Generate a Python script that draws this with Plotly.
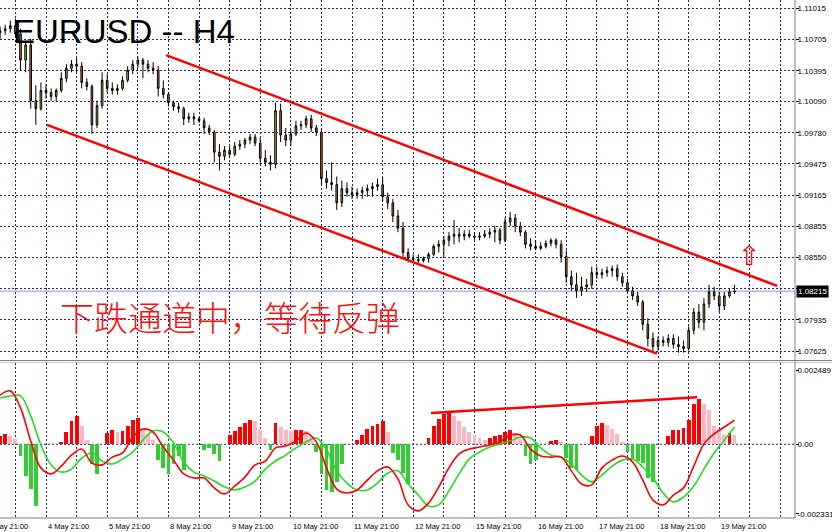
import plotly.graph_objects as go

# ---------------- data ----------------
# bar time in trading hours since "4 May 21:00" (2-hour bars)
bar_hours = list(range(-18, 271, 2))

open_ = [1.1077,1.1079,1.1081,1.1084,1.1076,1.1050,1.1065,1.1010,1.1002,1.1020,
         1.1018,1.1014,1.1020,1.1032,1.1042,1.1046,1.1044,1.1028,1.1024,1.0986,
         1.1005,1.1030,1.1022,1.1020,1.1022,1.1030,1.1040,1.1046,1.1050,1.1046,
         1.1042,1.1040,1.1022,1.1016,1.1008,1.1004,1.1002,1.0992,1.0994,1.0992,
         1.0990,1.0983,1.0979,1.0959,1.0955,1.0961,1.0957,1.0965,1.0967,1.0971,
         1.0974,1.0968,1.0953,1.0949,1.0947,1.1000,1.0976,1.0971,1.0977,1.0985,
         1.0986,1.0992,1.0983,1.0979,1.0933,1.0929,1.0927,1.0909,1.0923,1.0919,
         1.0917,1.0919,1.0921,1.0923,1.0925,1.0927,1.0915,1.0909,1.0896,1.0884,
         1.0860,1.0854,1.0853,1.0852,1.0854,1.0858,1.0866,1.0868,1.0872,1.0876,
         1.0878,1.0876,1.0878,1.0876,1.0875,1.0876,1.0878,1.0880,1.0882,1.0872,
         1.0890,1.0894,1.0886,1.0880,1.0868,1.0866,1.0864,1.0866,1.0869,1.0872,
         1.0868,1.0856,1.0836,1.0828,1.0822,1.0826,1.0828,1.0840,1.0838,1.0840,
         1.0842,1.0844,1.0836,1.0830,1.0822,1.0817,1.0811,1.0789,1.0775,1.0767,
         1.0773,1.0771,1.0775,1.0769,1.0767,1.0765,1.0783,1.0801,1.0791,1.0809,
         1.0821,1.0817,1.0807,1.0817,1.0821]
high = [1.1083,1.1085,1.1089,1.1091,1.1081,1.1068,1.1071,1.1025,1.1028,1.1026,
        1.1022,1.1022,1.1038,1.1046,1.1050,1.1052,1.1048,1.1032,1.1026,1.1010,
        1.1038,1.1036,1.1028,1.1026,1.1034,1.1044,1.1050,1.1054,1.1052,1.1050,
        1.1048,1.1044,1.1030,1.1018,1.1010,1.1008,1.1004,1.0998,1.0998,1.0994,
        1.0993,1.0986,1.0981,1.0967,1.0965,1.0965,1.0969,1.0971,1.0973,1.0977,
        1.0977,1.0973,1.0961,1.0956,1.1008,1.1007,1.0983,1.0981,1.0990,1.0990,
        1.0995,1.0996,1.0986,1.0981,1.0941,1.0949,1.0935,1.0931,1.0929,1.0925,
        1.0923,1.0925,1.0927,1.0929,1.0933,1.0934,1.0919,1.0913,1.0902,1.0890,
        1.0864,1.0858,1.0858,1.0856,1.0860,1.0868,1.0872,1.0876,1.0880,1.0892,
        1.0884,1.0882,1.0882,1.0880,1.0880,1.0882,1.0884,1.0886,1.0884,1.0894,
        1.0900,1.0898,1.0890,1.0882,1.0874,1.0872,1.0870,1.0872,1.0874,1.0874,
        1.0872,1.0862,1.0842,1.0840,1.0836,1.0834,1.0846,1.0846,1.0844,1.0846,
        1.0847,1.0848,1.0840,1.0834,1.0826,1.0821,1.0813,1.0795,1.0781,1.0777,
        1.0777,1.0779,1.0779,1.0777,1.0773,1.0787,1.0805,1.0809,1.0815,1.0828,
        1.0826,1.0821,1.0821,1.0824,1.0828]
low = [1.1071,1.1075,1.1077,1.1073,1.1040,1.1038,1.1002,1.0986,1.1000,1.1012,
       1.1010,1.1009,1.1018,1.1028,1.1038,1.1038,1.1022,1.1020,1.0977,1.0983,
       1.1002,1.1018,1.1016,1.1016,1.1020,1.1028,1.1036,1.1042,1.1032,1.1038,
       1.1036,1.1014,1.1012,1.1004,1.1000,1.0998,1.0986,1.0988,1.0986,1.0988,
       1.0977,1.0976,1.0949,1.0941,1.0951,1.0953,1.0955,1.0961,1.0963,1.0967,
       1.0965,1.0947,1.0945,1.0941,1.0943,1.0969,1.0965,1.0965,1.0975,1.0981,
       1.0983,1.0979,1.0975,1.0927,1.0923,1.0921,1.0902,1.0905,1.0915,1.0913,
       1.0913,1.0913,1.0915,1.0915,1.0921,1.0911,1.0903,1.0890,1.0880,1.0854,
       1.0850,1.0850,1.0849,1.0850,1.0850,1.0856,1.0860,1.0856,1.0866,1.0868,
       1.0870,1.0872,1.0874,1.0872,1.0872,1.0874,1.0874,1.0870,1.0868,1.0870,
       1.0886,1.0880,1.0876,1.0864,1.0862,1.0862,1.0862,1.0864,1.0866,1.0864,
       1.0850,1.0830,1.0822,1.0815,1.0817,1.0821,1.0824,1.0834,1.0834,1.0836,
       1.0836,1.0832,1.0826,1.0821,1.0813,1.0807,1.0783,1.0767,1.0761,1.0763,
       1.0767,1.0767,1.0765,1.0761,1.0761,1.0763,1.0779,1.0785,1.0783,1.0805,
       1.0813,1.0801,1.0803,1.0815,1.0819]
close = [1.1079,1.1081,1.1084,1.1076,1.1050,1.1065,1.1010,1.1002,1.1020,1.1018,
         1.1014,1.1020,1.1032,1.1042,1.1046,1.1044,1.1028,1.1024,1.0986,1.1005,
         1.1030,1.1022,1.1020,1.1022,1.1030,1.1040,1.1046,1.1050,1.1046,1.1042,
         1.1040,1.1022,1.1016,1.1008,1.1004,1.1002,1.0992,1.0994,1.0992,1.0990,
         1.0983,1.0979,1.0959,1.0955,1.0961,1.0957,1.0965,1.0967,1.0971,1.0974,
         1.0968,1.0953,1.0949,1.0947,1.1000,1.0976,1.0971,1.0977,1.0985,1.0986,
         1.0992,1.0983,1.0979,1.0933,1.0929,1.0927,1.0909,1.0923,1.0919,1.0917,
         1.0919,1.0921,1.0923,1.0925,1.0927,1.0915,1.0909,1.0896,1.0884,1.0860,
         1.0854,1.0853,1.0852,1.0854,1.0858,1.0866,1.0868,1.0872,1.0876,1.0878,
         1.0876,1.0878,1.0876,1.0875,1.0876,1.0878,1.0880,1.0882,1.0872,1.0890,
         1.0894,1.0886,1.0880,1.0868,1.0866,1.0864,1.0866,1.0869,1.0872,1.0868,
         1.0856,1.0836,1.0828,1.0822,1.0826,1.0828,1.0840,1.0838,1.0840,1.0842,
         1.0844,1.0836,1.0830,1.0822,1.0817,1.0811,1.0789,1.0775,1.0767,1.0773,
         1.0771,1.0775,1.0769,1.0767,1.0765,1.0783,1.0801,1.0791,1.0809,1.0821,
         1.0817,1.0807,1.0817,1.0821,1.08215]

bid_price = 1.08215

# MACD-style oscillator (histogram per 2h bar, lines per 4h)
hist = [0.00027,0.00034,0.00027,0.00017,-0.00040,-0.00107,-0.00151,-0.00208,0,0,
        0,0,0.00007,0.00040,0.00077,0.00094,0.00060,0.00013,-0.00067,-0.00101,
        0,0.00037,0.00047,0.00040,0.00044,0.00060,0.00080,0.00087,0.00054,0.00034,
        0.00013,-0.00054,-0.00080,-0.00101,-0.00067,-0.00040,-0.00087,0,0,0,
        -0.00020,-0.00013,-0.00034,-0.00057,0,0.00030,0.00044,0.00057,0.00070,0.00080,
        0.00077,0.00047,0.00020,-0.00020,0.00070,0.00057,0.00047,0.00044,0.00047,0.00047,
        0.00044,0.00027,-0.00027,-0.00101,-0.00154,-0.00161,-0.00127,-0.00067,0,0,
        0.00013,0.00030,0.00050,0.00060,0.00067,0.00077,0.00040,-0.00030,-0.00054,-0.00097,
        -0.00134,0,0,0,0.00020,0.00060,0.00084,0.00101,0.00107,0.00094,
        0.00077,0.00057,0.00040,0.00030,0.00020,0.00013,0.00020,0.00027,0.00030,0.00040,
        0.00047,0.00034,0.00017,-0.00040,-0.00067,-0.00054,0,0,0.00010,0.00013,
        0.00007,-0.00047,-0.00080,-0.00087,0,0,0.00027,0.00060,0.00070,0.00064,
        0.00050,0.00034,0.00007,-0.00027,-0.00054,-0.00057,-0.00064,-0.00114,-0.00127,0,
        0,0.00027,0.00047,0.00047,0.00054,0.00080,0.00134,0.00151,0.00134,0.00114,
        0.00060,0.00047,0.00030,0.00037,0.00030]

line_hours = list(range(-18, 271, 4))
macd_main = [0.00165,0.00179,0.00122,0.00011,-0.00079,-0.00099,-0.00073,-0.00036,-0.00016,-0.00063,
             -0.00069,-0.00043,-0.00029,0.00024,0.00051,0.00041,-0.00009,-0.00053,-0.00099,-0.00113,
             -0.00113,-0.00146,-0.00166,-0.00140,-0.00110,-0.00069,-0.00056,-0.00012,-0.00006,0.00011,
             0.00038,0.00008,-0.00079,-0.00150,-0.00163,-0.00153,-0.00120,-0.00089,-0.00076,-0.00116,
             -0.00203,-0.00223,-0.00197,-0.00143,-0.00079,-0.00032,-0.00016,-0.00009,-0.00002,0.00008,
             0.00031,0.00031,-0.00016,-0.00039,-0.00043,-0.00043,-0.00089,-0.00133,-0.00136,-0.00079,
             -0.00053,-0.00039,-0.00059,-0.00120,-0.00187,-0.00203,-0.00170,-0.00146,-0.00073,0.00001,
             0.00035,0.00058,0.00081]
macd_signal = [0.00155,0.00162,0.00162,0.00095,-0.00002,-0.00069,-0.00093,-0.00083,-0.00046,-0.00029,
               -0.00056,-0.00066,-0.00049,-0.00026,0.00014,0.00045,0.00041,0.00004,-0.00059,-0.00093,
               -0.00106,-0.00123,-0.00143,-0.00153,-0.00143,-0.00123,-0.00083,-0.00056,-0.00036,-0.00012,
               0.00008,0.00021,-0.00019,-0.00089,-0.00130,-0.00153,-0.00153,-0.00130,-0.00096,-0.00089,
               -0.00133,-0.00170,-0.00207,-0.00203,-0.00156,-0.00099,-0.00049,-0.00026,-0.00009,0.00001,
               0.00011,0.00024,0.00021,-0.00012,-0.00036,-0.00043,-0.00066,-0.00103,-0.00126,-0.00103,
               -0.00073,-0.00053,-0.00049,-0.00076,-0.00113,-0.00163,-0.00193,-0.00177,-0.00140,-0.00083,
               -0.00029,0.00014,0.00058]

# hand-drawn trend lines (hour, value)
upper_channel_x = [47.1, 286.7]
upper_channel_y = [1.1055, 1.0827]
lower_channel_x = [0.4, 239.6]
lower_channel_y = [1.0986, 1.0760]
osc_trend_x = [151.0, 255.3]
osc_trend_y = [0.00105, 0.00158]

price_ticks = [1.11015,1.10705,1.10395,1.10090,1.09780,1.09475,1.09165,1.08855,1.08550,1.08243,1.07935,1.07625]
price_tick_text = ["1.11015","1.10705","1.10395","1.10090","1.09780","1.09475","1.09165","1.08855","1.08550","","1.07935","1.07625"]
osc_ticks = [0.002489, 0.0, -0.002331]
osc_tick_text = ["0.002489", "0.00", "-0.002331"]

date_label_hours = [-24,0,24,48,72,96,120,144,168,192,216,240,264]
date_labels = ["3 May 21:00","4 May 21:00","5 May 21:00","8 May 21:00","9 May 21:00","10 May 21:00",
               "11 May 21:00","12 May 21:00","15 May 21:00","16 May 21:00","17 May 21:00","18 May 21:00","19 May 21:00"]

title_text = "EURUSD -- H4"
note_text = "下跌通道中，等待反弹"

# ---------------- figure ----------------
W, H = 832, 532
PLOT_R = 795
GRID = "#23238f"
GRID_DASH = "2px,2px"
FONT = "Liberation Sans"

x_range = [-18.04, 293.7]

fig = go.Figure()

fig.add_trace(go.Candlestick(
    x=bar_hours, open=open_, high=high, low=low, close=close,
    increasing=dict(line=dict(color="black", width=1), fillcolor="#b5c83a"),
    decreasing=dict(line=dict(color="black", width=1), fillcolor="#e8702a"),
    whiskerwidth=0, xaxis="x", yaxis="y", hoverinfo="skip"))

fig.add_trace(go.Scatter(x=upper_channel_x, y=upper_channel_y, mode="lines",
                         line=dict(color="#ff0000", width=2.5), xaxis="x", yaxis="y"))
fig.add_trace(go.Scatter(x=lower_channel_x, y=lower_channel_y, mode="lines",
                         line=dict(color="#ff0000", width=2.5), xaxis="x", yaxis="y"))

# histogram colours: rising positive = red, falling positive = pink, negative = green
hx, hy, hc = [], [], []
prev = 0.0
for t, v in zip(bar_hours, hist):
    if v != 0:
        if v < 0:
            c = "#33cc33"
        elif v >= prev:
            c = "#ff0000"
        else:
            c = "#ffb6c1"
        hx.append(t); hy.append(v); hc.append(c)
    prev = v

fig.add_trace(go.Bar(x=hx, y=hy, marker=dict(color=hc, line=dict(width=0)), width=1.5,
                     xaxis="x2", yaxis="y2"))
fig.add_trace(go.Scatter(x=line_hours, y=macd_signal, mode="lines", line=dict(color="#22dd22", width=1.6, shape="spline"),
                         xaxis="x2", yaxis="y2"))
fig.add_trace(go.Scatter(x=line_hours, y=macd_main, mode="lines", line=dict(color="#ff0000", width=1.6, shape="spline"),
                         xaxis="x2", yaxis="y2"))
fig.add_trace(go.Scatter(x=osc_trend_x, y=osc_trend_y, mode="lines", line=dict(color="#ff0000", width=2.5),
                         xaxis="x2", yaxis="y2"))

p_bottom = (H - 361) / H
o_top = (H - 363) / H
o_bottom = (H - 518) / H

axis_common = dict(showgrid=True, gridcolor=GRID, griddash=GRID_DASH, gridwidth=1,
                   zeroline=False, fixedrange=True, automargin=False)

fig.update_layout(
    width=W, height=H, margin=dict(l=0, r=W - PLOT_R, t=0, b=0, autoexpand=False),
    paper_bgcolor="white", plot_bgcolor="white", showlegend=False,
    boxgap=0.55, bargap=0,
    xaxis=dict(domain=[0, 1], range=x_range, anchor="y", showticklabels=False, tick0=0, dtick=12,
               rangeslider=dict(visible=False), **axis_common),
    yaxis=dict(domain=[p_bottom, 1], range=[1.07527, 1.11094], side="right", anchor="x",
               tickmode="array", tickvals=price_ticks, ticktext=price_tick_text,
               ticks="outside", ticklen=3, tickcolor="black", ticklabelstandoff=-3,
               tickfont=dict(family=FONT, size=8, color="black"), **axis_common),
    xaxis2=dict(domain=[0, 1], range=x_range, anchor="y2", showticklabels=False, tick0=0, dtick=12,
                **axis_common),
    yaxis2=dict(domain=[o_bottom, o_top], range=[-0.002469, 0.0027236], side="right", anchor="x2",
                tickmode="array", tickvals=osc_ticks, ticktext=osc_tick_text,
                ticks="outside", ticklen=3, tickcolor="black", showgrid=False, zeroline=False,
                automargin=False, ticklabelstandoff=-3,
                tickfont=dict(family=FONT, size=8, color="black"), fixedrange=True),
)

shapes = []
# bid line
shapes.append(dict(type="line", xref="x", yref="y", x0=x_range[0], x1=x_range[1], y0=bid_price, y1=bid_price,
                   line=dict(color="#b4b8d4", width=1.5), layer="below"))
# zero line of oscillator
shapes.append(dict(type="line", xref="paper", yref="y2", x0=0, x1=1, y0=0, y1=0,
                   line=dict(color=GRID, width=1, dash=GRID_DASH), layer="below"))
# frame lines
shapes.append(dict(type="line", xref="paper", yref="paper", x0=0, x1=W / PLOT_R, y0=p_bottom + 0.5 / H, y1=p_bottom + 0.5 / H,
                   line=dict(color="#808080", width=1)))
shapes.append(dict(type="line", xref="paper", yref="paper", x0=0, x1=W / PLOT_R, y0=o_top + 0.5 / H, y1=o_top + 0.5 / H,
                   line=dict(color="#c8c8c8", width=1)))
shapes.append(dict(type="line", xref="paper", yref="paper", x0=0, x1=1, y0=o_bottom, y1=o_bottom,
                   line=dict(color="#808080", width=1)))
shapes.append(dict(type="line", xref="paper", yref="paper", x0=1, x1=1, y0=o_bottom, y1=1,
                   line=dict(color="#808080", width=1)))
fig.update_layout(shapes=shapes)

ann = []
ann.append(dict(text=title_text, xref="paper", yref="paper", x=11 / PLOT_R, y=1 - 31 / H,
                xanchor="left", yanchor="middle", showarrow=False,
                font=dict(family=FONT, size=33, color="black")))
ann.append(dict(text=note_text, xref="paper", yref="paper", x=58 / PLOT_R, y=1 - 316 / H,
                xanchor="left", yanchor="middle", showarrow=False,
                font=dict(family="Noto Sans CJK SC", size=34, color="#ff1010", weight=300)))
ann.append(dict(text="⇧", xref="paper", yref="paper", x=749 / PLOT_R, y=1 - 255 / H,
                xanchor="center", yanchor="middle", showarrow=False,
                font=dict(family="DejaVu Sans", size=27, color="#ff0000")))
ann.append(dict(text="1.08215", xref="paper", yref="y", x=1, y=bid_price, xanchor="left", yanchor="middle",
                showarrow=False, bgcolor="black", borderpad=1, xshift=1,
                font=dict(family=FONT, size=8, color="white")))
span = x_range[1] - x_range[0]
for t, lab in zip(date_label_hours, date_labels):
    ann.append(dict(text=lab, xref="paper", yref="paper", x=(t - x_range[0]) / span, y=1 - 526 / H,
                    xanchor="left", yanchor="middle", showarrow=False,
                    font=dict(family=FONT, size=7.5, color="black")))
fig.update_layout(annotations=ann)

fig.write_html("out.html", config={"displayModeBar": False},
               post_script="document.body.style.margin='0px';document.body.style.overflow='hidden';")
